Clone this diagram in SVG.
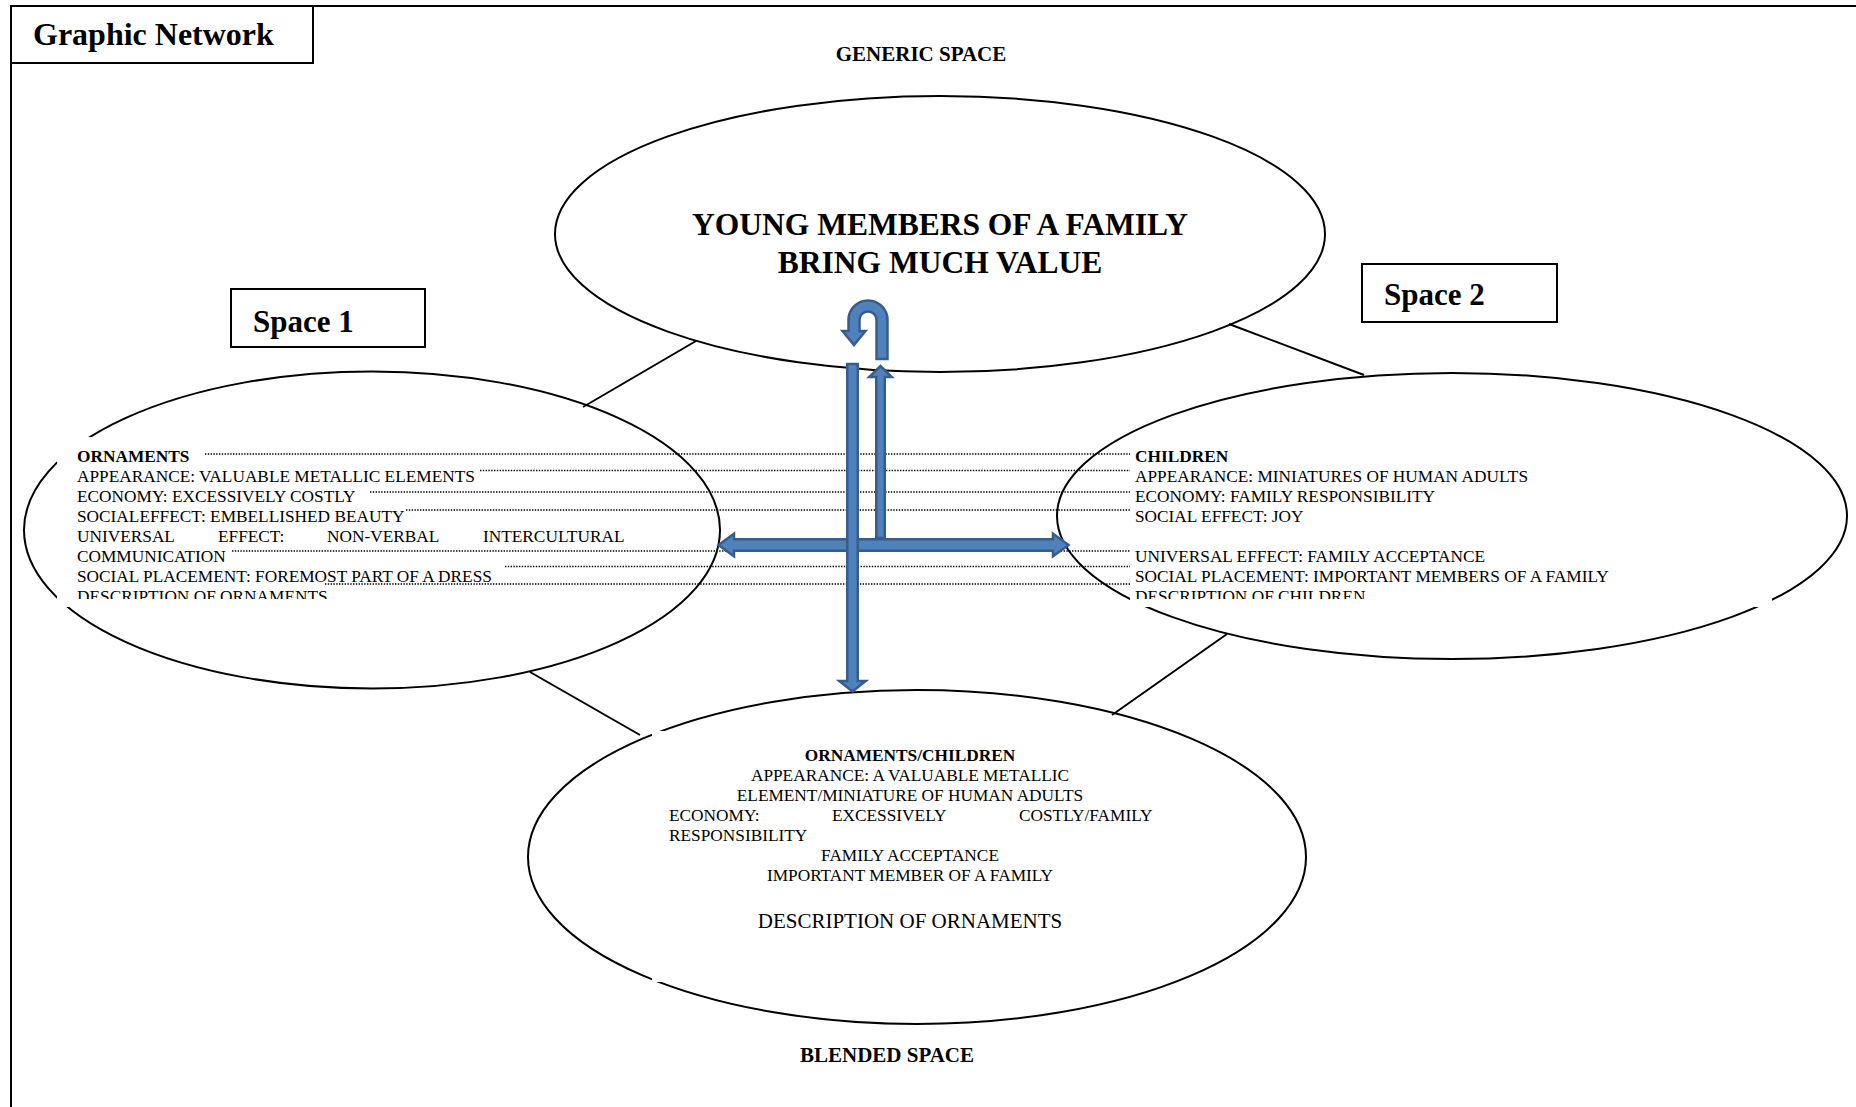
<svg xmlns="http://www.w3.org/2000/svg" width="1856" height="1107" viewBox="0 0 1856 1107">
  <defs>
    <style>
      .frame { fill: none; stroke: #000; stroke-width: 2; }
      .oval { fill: #fff; stroke: #000; stroke-width: 2; }
      .pad { fill: #fff; stroke: none; }
      .link { stroke: #000; stroke-width: 2; fill: none; }
      .leader { stroke: #000; stroke-width: 1.5; stroke-dasharray: 1.4 1.4; fill: none; }
      .flow { fill: #4F81BD; stroke: #385D8A; stroke-width: 2.5; stroke-linejoin: miter; }
      text { font-family: "Liberation Serif", "Times New Roman", serif; fill: #000; }
      .t { font-size: 17.3px; }
      .tb { font-size: 17.3px; font-weight: bold; }
      .head { font-size: 32px; font-weight: bold; }
      .tag { font-size: 31px; font-weight: bold; }
      .cap { font-size: 21px; font-weight: bold; }
      .main { font-size: 31.5px; font-weight: bold; }
    </style>
    <clipPath id="clipLeft"><rect x="57" y="437" width="590" height="162"/></clipPath>
    <clipPath id="clipRight"><rect x="1130" y="436" width="642" height="163"/></clipPath>
  </defs>

  <rect width="1856" height="1107" fill="#fff"/>

  <!-- page frame and title box -->
  <g id="frame">
    <path class="frame" d="M 11 1107 L 11 6 L 1856 6"/>
    <rect class="frame" x="11" y="6" width="302" height="57"/>
    <text class="head" x="33" y="45">Graphic Network</text>
  </g>

  <text class="cap" x="921" y="61" text-anchor="middle">GENERIC SPACE</text>
  <text class="cap" x="887" y="1062" text-anchor="middle">BLENDED SPACE</text>

  <!-- generic space -->
  <g id="generic">
    <ellipse class="oval" cx="940" cy="234" rx="385" ry="138"/>
    <text class="main" x="940" y="235" text-anchor="middle">YOUNG MEMBERS OF A FAMILY</text>
    <text class="main" x="940" y="273" text-anchor="middle">BRING MUCH VALUE</text>
  </g>

  <!-- input space labels -->
  <g id="label-space1">
    <rect class="frame" x="231" y="289" width="194" height="58"/>
    <text class="tag" x="253" y="332">Space 1</text>
  </g>
  <g id="label-space2">
    <rect class="frame" x="1362" y="264" width="195" height="58"/>
    <text class="tag" x="1384" y="305">Space 2</text>
  </g>

  <!-- input space 1 -->
  <g id="space1">
    <ellipse class="oval" cx="372" cy="530" rx="348" ry="158.5"/>
    <rect class="pad" x="57" y="437" width="588" height="170"/>
    <g clip-path="url(#clipLeft)">
      <text class="tb" x="77" y="461.5">ORNAMENTS</text>
      <text class="t" x="77" y="481.5">APPEARANCE: VALUABLE METALLIC ELEMENTS</text>
      <text class="t" x="77" y="502">ECONOMY: EXCESSIVELY COSTLY</text>
      <text class="t" x="77" y="521.5">SOCIALEFFECT: EMBELLISHED BEAUTY</text>
      <text class="t" x="77" y="541.5">UNIVERSAL</text>
      <text class="t" x="218" y="541.5">EFFECT:</text>
      <text class="t" x="327" y="541.5">NON-VERBAL</text>
      <text class="t" x="483" y="541.5">INTERCULTURAL</text>
      <text class="t" x="77" y="561.5">COMMUNICATION</text>
      <text class="t" x="77" y="581.5">SOCIAL PLACEMENT: FOREMOST PART OF A DRESS</text>
      <text class="t" x="77" y="601.5">DESCRIPTION OF ORNAMENTS</text>
    </g>
  </g>

  <!-- input space 2 -->
  <g id="space2">
    <ellipse class="oval" cx="1452" cy="516" rx="395" ry="143"/>
    <rect class="pad" x="1130" y="436" width="642" height="171"/>
    <g clip-path="url(#clipRight)">
      <text class="tb" x="1135" y="461.5">CHILDREN</text>
      <text class="t" x="1135" y="481.5">APPEARANCE: MINIATURES OF HUMAN ADULTS</text>
      <text class="t" x="1135" y="501.5">ECONOMY: FAMILY RESPONSIBILITY</text>
      <text class="t" x="1135" y="521.5">SOCIAL EFFECT: JOY</text>
      <text class="t" x="1135" y="561.5">UNIVERSAL EFFECT: FAMILY ACCEPTANCE</text>
      <text class="t" x="1135" y="581.5">SOCIAL PLACEMENT: IMPORTANT MEMBERS OF A FAMILY</text>
      <text class="t" x="1135" y="601.5">DESCRIPTION OF CHILDREN</text>
    </g>
  </g>

  <!-- blended space -->
  <g id="blend">
    <ellipse class="oval" cx="917" cy="857" rx="389" ry="167"/>
    <rect class="pad" x="652" y="731" width="512" height="251"/>
    <text class="tb" x="910" y="761" text-anchor="middle">ORNAMENTS/CHILDREN</text>
    <text class="t" x="910" y="781" text-anchor="middle">APPEARANCE: A VALUABLE METALLIC</text>
    <text class="t" x="910" y="801" text-anchor="middle">ELEMENT/MINIATURE OF HUMAN ADULTS</text>
    <text class="t" x="669" y="821">ECONOMY:</text>
    <text class="t" x="832" y="821">EXCESSIVELY</text>
    <text class="t" x="1019" y="821">COSTLY/FAMILY</text>
    <text class="t" x="669" y="841">RESPONSIBILITY</text>
    <text class="t" x="910" y="861" text-anchor="middle">FAMILY ACCEPTANCE</text>
    <text class="t" x="910" y="881" text-anchor="middle">IMPORTANT MEMBER OF A FAMILY</text>
    <text x="910" y="928" text-anchor="middle" font-size="21">DESCRIPTION OF ORNAMENTS</text>
  </g>

  <!-- connectors: space links, cross-space mappings, projection arrows -->
  <g id="connectors">
    <line class="link" x1="696" y1="341" x2="583" y2="407"/>
    <line class="link" x1="1229" y1="324" x2="1364" y2="375"/>
    <line class="link" x1="530" y1="672" x2="640" y2="735"/>
    <line class="link" x1="1227" y1="634" x2="1112" y2="715"/>

    <line class="leader" x1="205" y1="454" x2="1130" y2="454"/>
    <line class="leader" x1="480" y1="470.5" x2="1130" y2="470.5"/>
    <line class="leader" x1="370" y1="492" x2="1130" y2="492"/>
    <line class="leader" x1="406" y1="510" x2="1130" y2="510"/>
    <line class="leader" x1="232" y1="551" x2="1130" y2="551"/>
    <line class="leader" x1="505" y1="566.5" x2="1130" y2="566.5"/>
    <line class="leader" x1="325" y1="584" x2="1130" y2="584"/>

    <!-- u-turn inside generic space -->
    <path class="flow" d="M 887.5 359 L 887.5 320 A 19.5 19.5 0 0 0 848.5 320 L 848.5 331 L 842.5 331 L 854 345 L 865.5 331 L 859.5 331 L 859.5 320 A 8.5 8.5 0 0 1 876.5 320 L 876.5 359 Z"/>
    <!-- upward projection -->
    <path class="flow" d="M 876.25 538 L 876.25 377 L 869.25 377 L 880.5 366 L 891.75 377 L 884.75 377 L 884.75 538 Z"/>
    <!-- two-way mapping between inputs -->
    <path class="flow" d="M 718.5 545 L 734 533.75 L 734 539.25 L 1053 539.25 L 1053 533.75 L 1068.5 545 L 1053 556.25 L 1053 550.75 L 734 550.75 L 734 556.25 Z"/>
    <!-- downward projection to blend -->
    <path class="flow" d="M 847.25 364 L 857.75 364 L 857.75 681 L 865.75 681 L 852.5 691.5 L 839.25 681 L 847.25 681 Z"/>
  </g>
</svg>
